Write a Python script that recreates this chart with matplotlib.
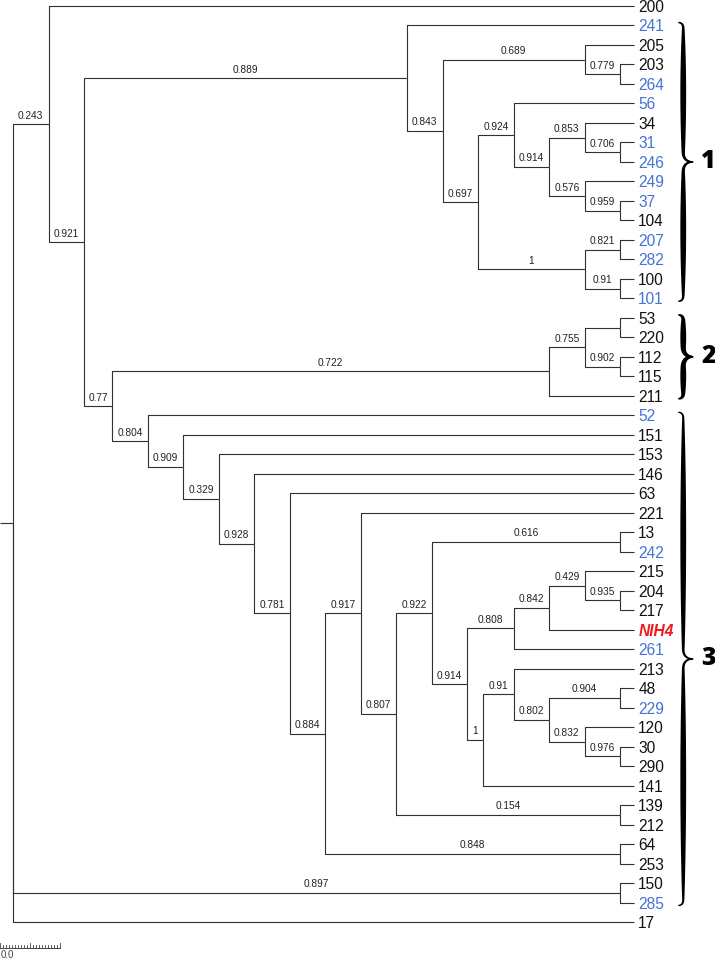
import numpy as np
import matplotlib
matplotlib.use('Agg')
import matplotlib.pyplot as plt
from matplotlib.patches import Polygon
from matplotlib.collections import LineCollection

# tree (support values as node labels, branch lengths as drawn)
tree_newick = """
((200:16.5,
  ((241:6.4,
    ((205:1.4,(203:0.4,264:0.4)0.779:1.0)0.689:4.0,
     ((56:3.4,((34:1.4,(31:0.4,246:0.4)0.706:1.0)0.853:1.0,
               (249:1.4,(37:0.4,104:0.4)0.959:1.0)0.576:1.0)0.914:1.0)0.924:1.0,
      ((207:0.4,282:0.4)0.821:1.0,(100:0.4,101:0.4)0.91:1.0)1:3.0)0.697:1.0)0.843:1.0)0.889:9.1,
   ((((53:0.4,220:0.4):1.0,(112:0.4,115:0.4)0.902:1.0)0.755:1.0,211:2.4)0.722:12.3,
    (52:13.7,
     (151:12.7,
      (153:11.7,
       (146:10.7,
        (63:9.7,
         ((221:7.7,
           (((13:0.4,242:0.4)0.616:5.3,
             ((((215:1.4,(204:0.4,217:0.4)0.935:1.0)0.429:1.0,NIH4:2.4)0.842:1.0,261:3.4)0.808:1.3,
              ((213:3.4,((48:0.4,229:0.4)0.904:2.0,(120:1.4,(30:0.4,290:0.4)0.976:1.0)0.832:1.0)0.802:1.0)0.91:0.85,
               141:4.25)1:0.45)0.914:1.0)0.922:1.0,
            (139:0.4,212:0.4)0.154:6.3)0.807:1.0)0.917:1.0,
          (64:0.4,253:0.4)0.848:8.3)0.884:1.0)0.781:1.0)0.928:1.0)0.329:1.0)0.909:1.0)0.804:1.0)0.77:0.8)0.921:1.0)0.243:1.0,
 (150:0.4,285:0.4)0.897:17.1,
 17:17.5);
"""

blue_tips = ['241', '264', '56', '31', '246', '249', '37', '207', '282', '101',
             '52', '242', '261', '229', '285']
red_tip = 'NIH4'

clade_names = ['1', '2', '3']
clade_first = ['241', '53', '52']
clade_last = ['101', '211', '285']

BLUE = '#4472d6'
RED = '#ee1c1c'
LINE = '#303030'

# pixel scale of the layout
W_PX, H_PX = 715, 959
PX_X = 35.5      # px per branch length unit
PX_Y = 19.49     # px per tip row
ROOT_PX = 13
TOP_PX = 6


def parse_newick(s):
    s = ''.join(s.split()).rstrip(';')
    pos = 0

    def node():
        nonlocal pos
        kids = []
        if s[pos] == '(':
            pos += 1
            kids.append(node())
            while s[pos] == ',':
                pos += 1
                kids.append(node())
            pos += 1
        start = pos
        while pos < len(s) and s[pos] not in ':,)':
            pos += 1
        name = s[start:pos]
        length = 0.0
        if pos < len(s) and s[pos] == ':':
            pos += 1
            start = pos
            while pos < len(s) and s[pos] not in ',)':
                pos += 1
            length = float(s[start:pos])
        return {'name': name, 'len': length, 'kids': kids}

    return node()


tips = []


def layout(n, depth):
    n['x'] = depth + n['len']
    if not n['kids']:
        n['y'] = len(tips)
        tips.append(n)
    else:
        for k in n['kids']:
            layout(k, n['x'])
        n['y'] = (n['kids'][0]['y'] + n['kids'][-1]['y']) / 2


root = parse_newick(tree_newick)
layout(root, 0.0)

fig = plt.figure(figsize=(W_PX / 100, H_PX / 100), dpi=100)
ax = fig.add_axes([0, 0, 1, 1])
ax.axis('off')
x0 = -ROOT_PX / PX_X
y0 = -TOP_PX / PX_Y
ax.set_xlim(x0, x0 + W_PX / PX_X)
ax.set_ylim(y0 + H_PX / PX_Y, y0)

segs = []
supports = []


def walk(n):
    for k in n['kids']:
        segs.append([(n['x'], n['y']), (n['x'], k['y']), (k['x'], k['y'])])
        if k['kids'] and k['name']:
            supports.append(((n['x'] + k['x']) / 2, k['y'], k['name']))
        walk(k)


walk(root)
segs.append([(root['x'] - ROOT_PX / PX_X, root['y']), (root['x'], root['y'])])
ax.add_collection(LineCollection(segs, colors=LINE, linewidths=0.8,
                                 joinstyle='round', capstyle='butt'))

for x, y, s in supports:
    ax.text(x, y - 3.5 / PX_Y, s, ha='center', va='bottom', fontsize=7.3,
            family='Liberation Sans', color='#222222')

for t in tips:
    col, wt, st = '#111111', 'normal', 'normal'
    if t['name'] in blue_tips:
        col = BLUE
    if t['name'] == red_tip:
        col, wt, st = RED, 'bold', 'italic'
    ax.text(t['x'] + 4 / PX_X, t['y'], t['name'], ha='left', va='center_baseline',
            fontsize=11.2, family='Liberation Sans', color=col, weight=wt, style=st)


def brace(xl, ya, yb):
    # curly brace "}" as a filled shape, built in pixels then mapped to data
    h = (yb - ya) * PX_Y
    r1, r2, sp, tip = 6.0, 10.0, 5.0, 15.0
    tt = np.linspace(0, 1, 40)
    a = np.array([0, 0]); c = np.array([sp, 0]); b = np.array([sp, r1])
    p1 = ((1 - tt) ** 2)[:, None] * a + (2 * (1 - tt) * tt)[:, None] * c + (tt ** 2)[:, None] * b
    p2 = np.column_stack([np.full(40, sp), np.linspace(r1, h / 2 - r2, 40)])
    a = np.array([sp, h / 2 - r2]); c = np.array([sp, h / 2]); b = np.array([tip, h / 2])
    p3 = ((1 - tt) ** 2)[:, None] * a + (2 * (1 - tt) * tt)[:, None] * c + (tt ** 2)[:, None] * b
    top = np.vstack([p1, p2[1:], p3[1:]])
    bot = top[::-1].copy()
    bot[:, 1] = h - bot[:, 1]
    pts = np.vstack([top, bot[1:]])
    d = np.gradient(pts, axis=0)
    nrm = np.column_stack([-d[:, 1], d[:, 0]])
    nrm /= np.linalg.norm(nrm, axis=1)[:, None]
    seg = np.r_[0, np.cumsum(np.linalg.norm(np.diff(pts, axis=0), axis=1))]
    half = seg[len(top) - 1]
    s = np.where(seg <= half, seg / half, (seg[-1] - seg) / (seg[-1] - half))
    w = 0.6 + 2.3 * np.sin(np.pi * s) ** 0.7
    left = pts + nrm * w[:, None]
    right = pts - nrm * w[:, None]
    poly = np.vstack([left, right[::-1]])
    poly_data = np.column_stack([xl + poly[:, 0] / PX_X, ya + poly[:, 1] / PX_Y])
    ax.add_patch(Polygon(poly_data, closed=True, fc='black', ec='none'))
    return xl + tip / PX_X, (ya + yb) / 2


tip_x = max(t['x'] for t in tips)
pos = {t['name']: t['y'] for t in tips}
for name, first, last in zip(clade_names, clade_first, clade_last):
    bx, by = brace(tip_x + 44 / PX_X, pos[first] - 0.15, pos[last] + 0.15)
    ax.text(bx + 8 / PX_X, by, name, ha='left', va='center', fontsize=18,
            family='Open Sans', weight='heavy', color='black')

# scale bar
sb_y = 1 - 948 / H_PX
sb_len = 60 / W_PX
ax.plot([0, sb_len], [sb_y, sb_y], color='#444444', lw=0.7, transform=ax.transAxes)
for i in range(21):
    tx = i * sb_len / 20
    th = (5 if i % 10 == 0 else 3) / H_PX
    ax.plot([tx, tx], [sb_y, sb_y + th], color='#444444', lw=0.6, transform=ax.transAxes)
ax.text(1 / W_PX, sb_y - 1.5 / H_PX, '0.0', ha='left', va='top', fontsize=7,
        family='Liberation Sans', color='#444444', transform=ax.transAxes)

fig.savefig('out.png', dpi=100)
